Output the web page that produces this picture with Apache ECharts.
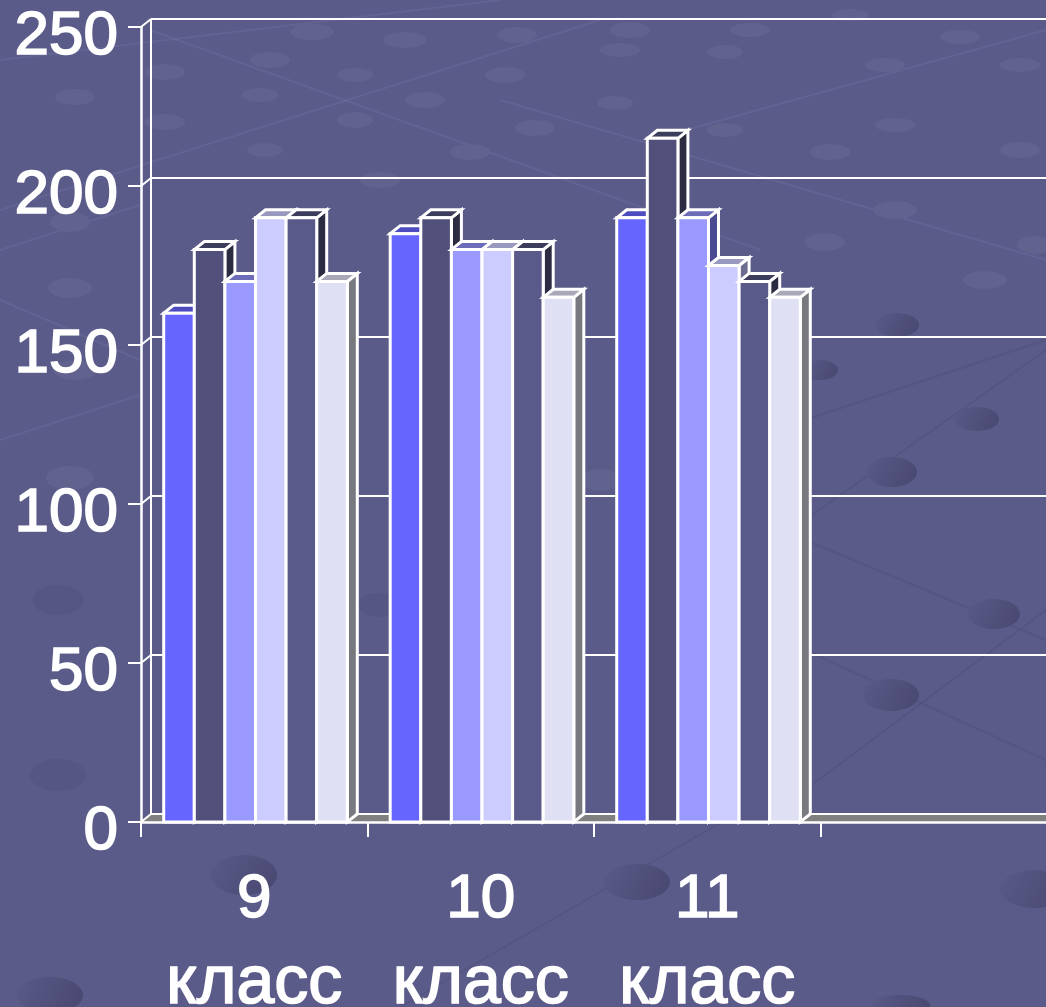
<!DOCTYPE html>
<html lang="ru">
<head>
    <meta charset="UTF-8">
    <title>Chart</title>
    <script src="https://cdn.jsdelivr.net/npm/echarts@6/dist/echarts.min.js"></script>
    <style>
        html, body { margin: 0; padding: 0; background: #5b5b8a; overflow: hidden; }
        #bar { width: 1046px; height: 1007px; }
    </style>
</head>
<body>
    <div id="bar"></div>

    <script>
        const categories = ['9\nкласс', '10\nкласс', '11\nкласс', ''];
        const wallTicks = [0, 50, 100, 150, 200, 250];

        const series1 = [160, 185, 190, null];
        const series2 = [180, 190, 215, null];
        const series3 = [170, 180, 190, null];
        const series4 = [190, 180, 175, null];
        const series5 = [190, 180, 170, null];
        const series6 = [170, 165, 165, null];

        // front, top, side
        const barColors = [
            ['#6666ff', '#4c4cc0', '#3c3c9a'],
            ['#50507a', '#3c3c5c', '#2b2b42'],
            ['#9999ff', '#6c6cb8', '#4a4a90'],
            ['#ccccff', '#9999bf', '#6c6c90'],
            ['#5a5a8a', '#3c3c5c', '#2b2b42'],
            ['#e0e0f5', '#a8a8b8', '#78787f']
        ];

        const depthX = 10, depthY = 8;
        const slot = 30.6;
        const white = '#ffffff';

        // background pebbles and their threads, only decoration
        const lightDots = [[312,32,22,8],[405,40,22,8],[517,35,20,8],[630,30,20,8],[750,30,20,7],[850,15,18,6],[960,37,20,7],
            [165,72,20,8],[270,60,20,8],[355,75,18,7],[505,75,20,8],[620,50,20,7],[725,52,18,7],[885,65,20,7],[1020,65,20,7],
            [75,97,20,8],[165,122,20,8],[260,95,18,7],[355,120,18,8],[425,100,20,8],[535,128,20,8],[615,103,18,7],[725,130,18,7],
            [895,125,20,7],[830,152,20,8],[1020,150,20,8],[265,150,18,7],[470,152,20,8],[380,180,20,8],[895,210,22,9],
            [825,242,20,9],[1035,245,18,9],[985,280,22,9],[70,288,22,10],[75,370,22,10],[70,478,24,12],[600,480,20,11],[70,222,20,10]];
        const midDots = [[58,600,25,15],[58,775,28,16],[380,605,22,12]];
        const darkDots = [[892,472,25,15],[977,419,22,12],[994,614,26,15],[891,695,28,16],[637,882,33,18],[1035,889,35,19],
            [244,875,33,20],[50,995,33,18],[900,1005,30,10],[897,325,22,12],[820,370,18,10]];
        const lightLines = [[0,60,500,0],[150,30,760,250],[500,100,1046,260],[0,210,600,20],[0,300,140,360],[0,250,140,205],[0,440,140,395],[650,140,1046,30]];
        const darkLines = [[805,540,1046,640],[805,520,1046,350],[805,790,1046,610],[805,650,1046,760],[400,1007,760,800],[805,420,1046,340]];

        function barItem(index, colors) {
            return function (params, api) {
                const value = api.value(1);
                if (value == null || isNaN(value)) return;
                const center = api.coord([api.value(0), 0]);
                const base = center[1];
                const top = api.coord([api.value(0), value])[1];
                const x0 = center[0] + (index - 3) * slot + 1.25;
                const x1 = x0 + slot;
                const line = { stroke: white, lineWidth: 3, lineJoin: 'miter' };
                return {
                    type: 'group',
                    children: [
                        { type: 'polygon', shape: { points: [[x1, top], [x1 + depthX, top - depthY], [x1 + depthX, base - depthY], [x1, base]] }, style: Object.assign({ fill: colors[2] }, line) },
                        { type: 'polygon', shape: { points: [[x0, top], [x0 + depthX, top - depthY], [x1 + depthX, top - depthY], [x1, top]] }, style: Object.assign({ fill: colors[1] }, line) },
                        { type: 'rect', shape: { x: x0, y: top, width: slot, height: base - top }, style: Object.assign({ fill: colors[0] }, line) }
                    ]
                };
            };
        }

        function wallItem(params, api) {
            const sys = params.coordSys;
            const y = api.coord([0, api.value(0)])[1];
            const left = sys.x;
            const right = sys.x + sys.width;
            const children = [
                { type: 'line', shape: { x1: left, y1: y, x2: left + depthX, y2: y - depthY }, style: { stroke: white, lineWidth: 2 } },
                { type: 'line', shape: { x1: left + depthX, y1: y - depthY, x2: right, y2: y - depthY }, style: { stroke: white, lineWidth: 2 } }
            ];
            if (api.value(0) === 0) {
                children.unshift({ type: 'polygon', shape: { points: [[left, y], [left + depthX, y - depthY], [right, y - depthY], [right, y]] }, style: { fill: '#808080' } });
                children.push({ type: 'line', shape: { x1: left + depthX, y1: sys.y - depthY, x2: left + depthX, y2: y - depthY }, style: { stroke: white, lineWidth: 2 } });
            }
            return { type: 'group', children: children };
        }

        const graphics = [];
        lightLines.forEach(l => graphics.push({ type: 'line', silent: true, z: -3, shape: { x1: l[0], y1: l[1], x2: l[2], y2: l[3] }, style: { stroke: 'rgba(120,120,170,0.3)', lineWidth: 2 } }));
        darkLines.forEach(l => graphics.push({ type: 'line', silent: true, z: -3, shape: { x1: l[0], y1: l[1], x2: l[2], y2: l[3] }, style: { stroke: 'rgba(72,72,116,0.3)', lineWidth: 2 } }));
        lightDots.forEach(d => graphics.push({ type: 'ellipse', silent: true, z: -2, shape: { cx: d[0], cy: d[1], rx: d[2], ry: d[3] }, style: { fill: '#62628f' } }));
        midDots.forEach(d => graphics.push({ type: 'ellipse', silent: true, z: -2, shape: { cx: d[0], cy: d[1], rx: d[2], ry: d[3] }, style: { fill: '#565683' } }));
        darkDots.forEach(d => graphics.push({ type: 'ellipse', silent: true, z: -2, shape: { cx: d[0], cy: d[1], rx: d[2], ry: d[3] }, style: { fill: new echarts.graphic.LinearGradient(0, 0, 1, 1, [{ offset: 0, color: '#5a5a88' }, { offset: 1, color: '#474770' }]) } }));

        const values = [series1, series2, series3, series4, series5, series6];
        const chartSeries = [{
            type: 'custom',
            renderItem: wallItem,
            data: wallTicks.map(v => [v]),
            encode: { y: 0 },
            silent: true,
            z: 1
        }];
        values.forEach((list, i) => {
            chartSeries.push({
                type: 'custom',
                renderItem: barItem(i, barColors[i]),
                data: list.map((v, c) => [c, v]),
                encode: { x: 0, y: 1 },
                silent: true,
                clip: false,
                z: 2
            });
        });

        const myecharts = echarts.init(document.getElementById('bar'), null, { renderer: 'canvas' });
        const option = {
            animation: false,
            backgroundColor: '#5b5b8a',
            graphic: { elements: graphics },
            grid: { left: 141, right: -1, top: 27, bottom: 185, outerBoundsMode: 'none' },
            xAxis: {
                type: 'category',
                data: categories,
                boundaryGap: true,
                z: 3,
                axisLine: { show: true, onZero: true, lineStyle: { color: white, width: 2.5 } },
                axisTick: { show: true, alignWithLabel: false, length: 15, lineStyle: { color: white, width: 2 } },
                axisLabel: {
                    interval: 0,
                    margin: 35,
                    hideOverlap: false,
                    formatter: function (v) {
                        const parts = v.split('\n');
                        return parts.length > 1 ? '{d|' + parts[0] + '}\n{w|' + parts[1] + '}' : '';
                    },
                    rich: {
                        d: { color: white, fontFamily: 'Liberation Sans', fontSize: 62, lineHeight: 85, textBorderColor: white, textBorderWidth: 1.6 },
                        w: { color: white, fontFamily: 'Liberation Sans', fontSize: 68, lineHeight: 85, textBorderColor: white, textBorderWidth: 1.6 }
                    }
                }
            },
            yAxis: {
                type: 'value',
                min: 0,
                max: 250,
                interval: 50,
                splitLine: { show: false },
                axisLine: { show: true, lineStyle: { color: white, width: 2.5 } },
                axisTick: { show: true, length: 13, lineStyle: { color: white, width: 2 } },
                axisLabel: {
                    margin: 23,
                    formatter: '{n|{value}}',
                    rich: {
                        n: { color: white, fontFamily: 'Liberation Sans', fontSize: 62, padding: [19, 0, 0, 0], textBorderColor: white, textBorderWidth: 1.6 }
                    }
                }
            },
            series: chartSeries
        };
        myecharts.setOption(option);
    </script>
</body>
</html>
